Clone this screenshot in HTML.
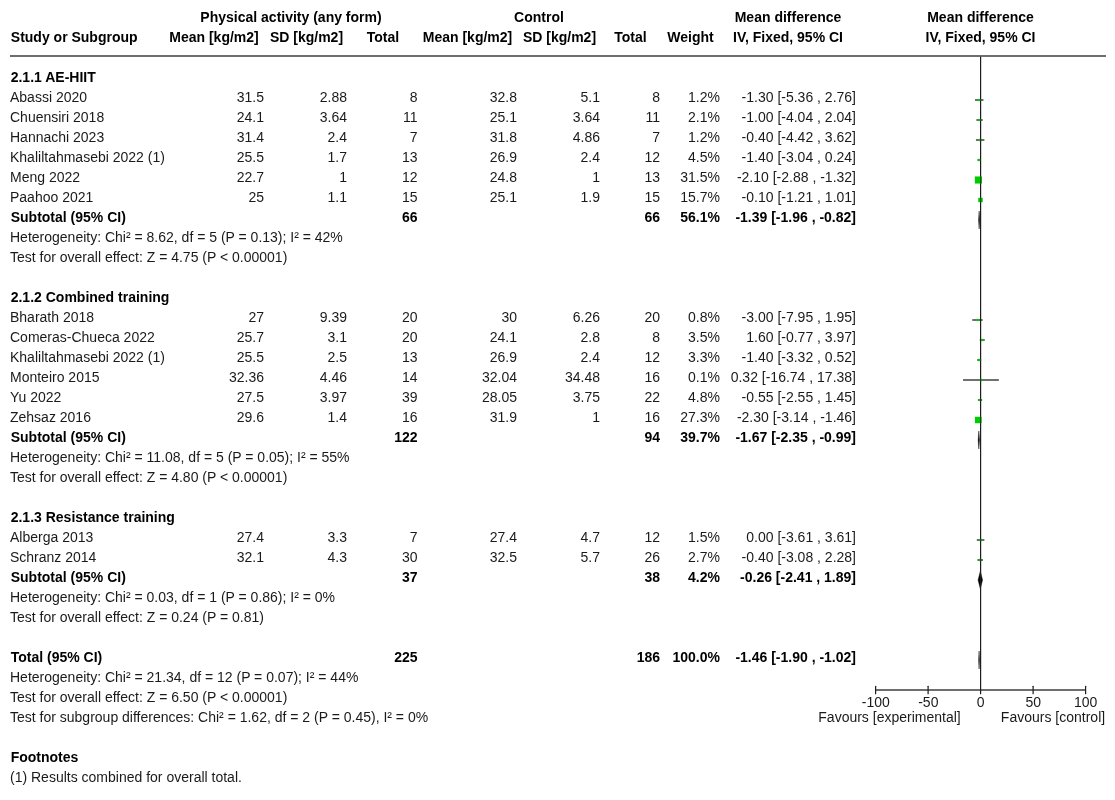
<!DOCTYPE html>
<html><head><meta charset="utf-8"><title>Forest plot</title>
<style>
html,body{margin:0;padding:0;background:#fff;}
body{width:1115px;height:800px;position:relative;overflow:hidden;font-family:"Liberation Sans",sans-serif;font-size:14px;color:#1a1a1a;}
.t{position:absolute;white-space:nowrap;line-height:20px;height:20px;}
.b{font-weight:bold;color:#000;}
.r{transform:translateX(-100%);}
.c{transform:translateX(-50%);}
svg{position:absolute;left:0;top:0;}
#w{position:absolute;left:0;top:0;width:1115px;height:800px;will-change:transform;}
</style></head><body><div id="w">
<div class="t b c" style="left:291px;top:7px">Physical activity (any form)</div>
<div class="t b c" style="left:539px;top:7px">Control</div>
<div class="t b c" style="left:788px;top:7px">Mean difference</div>
<div class="t b c" style="left:980.5px;top:7px">Mean difference</div>
<div class="t b" style="left:10.8px;top:27px">Study or Subgroup</div>
<div class="t b c" style="left:214px;top:27px">Mean [kg/m2]</div>
<div class="t b c" style="left:306.5px;top:27px">SD [kg/m2]</div>
<div class="t b c" style="left:383px;top:27px">Total</div>
<div class="t b c" style="left:467.5px;top:27px">Mean [kg/m2]</div>
<div class="t b c" style="left:559.5px;top:27px">SD [kg/m2]</div>
<div class="t b c" style="left:630.5px;top:27px">Total</div>
<div class="t b c" style="left:690.5px;top:27px">Weight</div>
<div class="t b c" style="left:788px;top:27px">IV, Fixed, 95% CI</div>
<div class="t b c" style="left:980.5px;top:27px">IV, Fixed, 95% CI</div>
<div class="t b" style="left:10.7px;top:67px">2.1.1 AE-HIIT</div>
<div class="t" style="left:10px;top:87px">Abassi 2020</div>
<div class="t r" style="left:264px;top:87px">31.5</div>
<div class="t r" style="left:347px;top:87px">2.88</div>
<div class="t r" style="left:417.5px;top:87px">8</div>
<div class="t r" style="left:517px;top:87px">32.8</div>
<div class="t r" style="left:600px;top:87px">5.1</div>
<div class="t r" style="left:660px;top:87px">8</div>
<div class="t r" style="left:720px;top:87px">1.2%</div>
<div class="t r" style="left:856px;top:87px">-1.30 [-5.36 , 2.76]</div>
<div class="t" style="left:10px;top:107px">Chuensiri 2018</div>
<div class="t r" style="left:264px;top:107px">24.1</div>
<div class="t r" style="left:347px;top:107px">3.64</div>
<div class="t r" style="left:417.5px;top:107px">11</div>
<div class="t r" style="left:517px;top:107px">25.1</div>
<div class="t r" style="left:600px;top:107px">3.64</div>
<div class="t r" style="left:660px;top:107px">11</div>
<div class="t r" style="left:720px;top:107px">2.1%</div>
<div class="t r" style="left:856px;top:107px">-1.00 [-4.04 , 2.04]</div>
<div class="t" style="left:10px;top:127px">Hannachi 2023</div>
<div class="t r" style="left:264px;top:127px">31.4</div>
<div class="t r" style="left:347px;top:127px">2.4</div>
<div class="t r" style="left:417.5px;top:127px">7</div>
<div class="t r" style="left:517px;top:127px">31.8</div>
<div class="t r" style="left:600px;top:127px">4.86</div>
<div class="t r" style="left:660px;top:127px">7</div>
<div class="t r" style="left:720px;top:127px">1.2%</div>
<div class="t r" style="left:856px;top:127px">-0.40 [-4.42 , 3.62]</div>
<div class="t" style="left:10px;top:147px">Khaliltahmasebi 2022 (1)</div>
<div class="t r" style="left:264px;top:147px">25.5</div>
<div class="t r" style="left:347px;top:147px">1.7</div>
<div class="t r" style="left:417.5px;top:147px">13</div>
<div class="t r" style="left:517px;top:147px">26.9</div>
<div class="t r" style="left:600px;top:147px">2.4</div>
<div class="t r" style="left:660px;top:147px">12</div>
<div class="t r" style="left:720px;top:147px">4.5%</div>
<div class="t r" style="left:856px;top:147px">-1.40 [-3.04 , 0.24]</div>
<div class="t" style="left:10px;top:167px">Meng 2022</div>
<div class="t r" style="left:264px;top:167px">22.7</div>
<div class="t r" style="left:347px;top:167px">1</div>
<div class="t r" style="left:417.5px;top:167px">12</div>
<div class="t r" style="left:517px;top:167px">24.8</div>
<div class="t r" style="left:600px;top:167px">1</div>
<div class="t r" style="left:660px;top:167px">13</div>
<div class="t r" style="left:720px;top:167px">31.5%</div>
<div class="t r" style="left:856px;top:167px">-2.10 [-2.88 , -1.32]</div>
<div class="t" style="left:10px;top:187px">Paahoo 2021</div>
<div class="t r" style="left:264px;top:187px">25</div>
<div class="t r" style="left:347px;top:187px">1.1</div>
<div class="t r" style="left:417.5px;top:187px">15</div>
<div class="t r" style="left:517px;top:187px">25.1</div>
<div class="t r" style="left:600px;top:187px">1.9</div>
<div class="t r" style="left:660px;top:187px">15</div>
<div class="t r" style="left:720px;top:187px">15.7%</div>
<div class="t r" style="left:856px;top:187px">-0.10 [-1.21 , 1.01]</div>
<div class="t b" style="left:10.7px;top:207px">Subtotal (95% CI)</div>
<div class="t b r" style="left:417.5px;top:207px">66</div>
<div class="t b r" style="left:660px;top:207px">66</div>
<div class="t b r" style="left:720px;top:207px">56.1%</div>
<div class="t b r" style="left:856px;top:207px">-1.39 [-1.96 , -0.82]</div>
<div class="t" style="left:10px;top:227px">Heterogeneity: Chi² = 8.62, df = 5 (P = 0.13); I² = 42%</div>
<div class="t" style="left:10px;top:247px">Test for overall effect: Z = 4.75 (P &lt; 0.00001)</div>
<div class="t b" style="left:10.7px;top:287px">2.1.2 Combined training</div>
<div class="t" style="left:10px;top:307px">Bharath 2018</div>
<div class="t r" style="left:264px;top:307px">27</div>
<div class="t r" style="left:347px;top:307px">9.39</div>
<div class="t r" style="left:417.5px;top:307px">20</div>
<div class="t r" style="left:517px;top:307px">30</div>
<div class="t r" style="left:600px;top:307px">6.26</div>
<div class="t r" style="left:660px;top:307px">20</div>
<div class="t r" style="left:720px;top:307px">0.8%</div>
<div class="t r" style="left:856px;top:307px">-3.00 [-7.95 , 1.95]</div>
<div class="t" style="left:10px;top:327px">Comeras-Chueca 2022</div>
<div class="t r" style="left:264px;top:327px">25.7</div>
<div class="t r" style="left:347px;top:327px">3.1</div>
<div class="t r" style="left:417.5px;top:327px">20</div>
<div class="t r" style="left:517px;top:327px">24.1</div>
<div class="t r" style="left:600px;top:327px">2.8</div>
<div class="t r" style="left:660px;top:327px">8</div>
<div class="t r" style="left:720px;top:327px">3.5%</div>
<div class="t r" style="left:856px;top:327px">1.60 [-0.77 , 3.97]</div>
<div class="t" style="left:10px;top:347px">Khaliltahmasebi 2022 (1)</div>
<div class="t r" style="left:264px;top:347px">25.5</div>
<div class="t r" style="left:347px;top:347px">2.5</div>
<div class="t r" style="left:417.5px;top:347px">13</div>
<div class="t r" style="left:517px;top:347px">26.9</div>
<div class="t r" style="left:600px;top:347px">2.4</div>
<div class="t r" style="left:660px;top:347px">12</div>
<div class="t r" style="left:720px;top:347px">3.3%</div>
<div class="t r" style="left:856px;top:347px">-1.40 [-3.32 , 0.52]</div>
<div class="t" style="left:10px;top:367px">Monteiro 2015</div>
<div class="t r" style="left:264px;top:367px">32.36</div>
<div class="t r" style="left:347px;top:367px">4.46</div>
<div class="t r" style="left:417.5px;top:367px">14</div>
<div class="t r" style="left:517px;top:367px">32.04</div>
<div class="t r" style="left:600px;top:367px">34.48</div>
<div class="t r" style="left:660px;top:367px">16</div>
<div class="t r" style="left:720px;top:367px">0.1%</div>
<div class="t r" style="left:856px;top:367px">0.32 [-16.74 , 17.38]</div>
<div class="t" style="left:10px;top:387px">Yu 2022</div>
<div class="t r" style="left:264px;top:387px">27.5</div>
<div class="t r" style="left:347px;top:387px">3.97</div>
<div class="t r" style="left:417.5px;top:387px">39</div>
<div class="t r" style="left:517px;top:387px">28.05</div>
<div class="t r" style="left:600px;top:387px">3.75</div>
<div class="t r" style="left:660px;top:387px">22</div>
<div class="t r" style="left:720px;top:387px">4.8%</div>
<div class="t r" style="left:856px;top:387px">-0.55 [-2.55 , 1.45]</div>
<div class="t" style="left:10px;top:407px">Zehsaz 2016</div>
<div class="t r" style="left:264px;top:407px">29.6</div>
<div class="t r" style="left:347px;top:407px">1.4</div>
<div class="t r" style="left:417.5px;top:407px">16</div>
<div class="t r" style="left:517px;top:407px">31.9</div>
<div class="t r" style="left:600px;top:407px">1</div>
<div class="t r" style="left:660px;top:407px">16</div>
<div class="t r" style="left:720px;top:407px">27.3%</div>
<div class="t r" style="left:856px;top:407px">-2.30 [-3.14 , -1.46]</div>
<div class="t b" style="left:10.7px;top:427px">Subtotal (95% CI)</div>
<div class="t b r" style="left:417.5px;top:427px">122</div>
<div class="t b r" style="left:660px;top:427px">94</div>
<div class="t b r" style="left:720px;top:427px">39.7%</div>
<div class="t b r" style="left:856px;top:427px">-1.67 [-2.35 , -0.99]</div>
<div class="t" style="left:10px;top:447px">Heterogeneity: Chi² = 11.08, df = 5 (P = 0.05); I² = 55%</div>
<div class="t" style="left:10px;top:467px">Test for overall effect: Z = 4.80 (P &lt; 0.00001)</div>
<div class="t b" style="left:10.7px;top:507px">2.1.3 Resistance training</div>
<div class="t" style="left:10px;top:527px">Alberga 2013</div>
<div class="t r" style="left:264px;top:527px">27.4</div>
<div class="t r" style="left:347px;top:527px">3.3</div>
<div class="t r" style="left:417.5px;top:527px">7</div>
<div class="t r" style="left:517px;top:527px">27.4</div>
<div class="t r" style="left:600px;top:527px">4.7</div>
<div class="t r" style="left:660px;top:527px">12</div>
<div class="t r" style="left:720px;top:527px">1.5%</div>
<div class="t r" style="left:856px;top:527px">0.00 [-3.61 , 3.61]</div>
<div class="t" style="left:10px;top:547px">Schranz 2014</div>
<div class="t r" style="left:264px;top:547px">32.1</div>
<div class="t r" style="left:347px;top:547px">4.3</div>
<div class="t r" style="left:417.5px;top:547px">30</div>
<div class="t r" style="left:517px;top:547px">32.5</div>
<div class="t r" style="left:600px;top:547px">5.7</div>
<div class="t r" style="left:660px;top:547px">26</div>
<div class="t r" style="left:720px;top:547px">2.7%</div>
<div class="t r" style="left:856px;top:547px">-0.40 [-3.08 , 2.28]</div>
<div class="t b" style="left:10.7px;top:567px">Subtotal (95% CI)</div>
<div class="t b r" style="left:417.5px;top:567px">37</div>
<div class="t b r" style="left:660px;top:567px">38</div>
<div class="t b r" style="left:720px;top:567px">4.2%</div>
<div class="t b r" style="left:856px;top:567px">-0.26 [-2.41 , 1.89]</div>
<div class="t" style="left:10px;top:587px">Heterogeneity: Chi² = 0.03, df = 1 (P = 0.86); I² = 0%</div>
<div class="t" style="left:10px;top:607px">Test for overall effect: Z = 0.24 (P = 0.81)</div>
<div class="t b" style="left:10.7px;top:647px">Total (95% CI)</div>
<div class="t b r" style="left:417.5px;top:647px">225</div>
<div class="t b r" style="left:660px;top:647px">186</div>
<div class="t b r" style="left:720px;top:647px">100.0%</div>
<div class="t b r" style="left:856px;top:647px">-1.46 [-1.90 , -1.02]</div>
<div class="t" style="left:10px;top:667px">Heterogeneity: Chi² = 21.34, df = 12 (P = 0.07); I² = 44%</div>
<div class="t" style="left:10px;top:687px">Test for overall effect: Z = 6.50 (P &lt; 0.00001)</div>
<div class="t" style="left:10px;top:707px">Test for subgroup differences: Chi² = 1.62, df = 2 (P = 0.45), I² = 0%</div>
<div class="t b" style="left:10.7px;top:747px">Footnotes</div>
<div class="t" style="left:10px;top:767px">(1) Results combined for overall total.</div>
<div class="t c" style="left:875.8px;top:692px">-100</div>
<div class="t c" style="left:928.3px;top:692px">-50</div>
<div class="t c" style="left:980.6px;top:692px">0</div>
<div class="t c" style="left:1033.2px;top:692px">50</div>
<div class="t c" style="left:1085.6px;top:692px">100</div>
<div class="t c" style="left:889.5px;top:707px">Favours [experimental]</div>
<div class="t c" style="left:1053px;top:707px">Favours [control]</div>
<svg width="1115" height="800" viewBox="0 0 1115 800">
<rect x="10" y="55" width="1096" height="2" fill="#6e6e6e"/>
<rect x="875.6" y="689" width="210" height="2" fill="#6e6e6e"/>
<line x1="875.6" y1="686.3" x2="875.6" y2="693.7" stroke="#1c1c1c" stroke-width="1.2" stroke-linecap="round"/>
<line x1="928.1" y1="686.3" x2="928.1" y2="693.7" stroke="#1c1c1c" stroke-width="1.2" stroke-linecap="round"/>
<line x1="1033.1" y1="686.3" x2="1033.1" y2="693.7" stroke="#1c1c1c" stroke-width="1.2" stroke-linecap="round"/>
<line x1="1085.6" y1="686.3" x2="1085.6" y2="693.7" stroke="#1c1c1c" stroke-width="1.2" stroke-linecap="round"/>
<rect x="974.97" y="99" width="8.53" height="2" fill="#707070"/>
<rect x="976.36" y="119" width="6.38" height="2" fill="#707070"/>
<rect x="975.96" y="139" width="8.44" height="2" fill="#707070"/>
<rect x="977.41" y="159" width="3.44" height="2" fill="#707070"/>
<rect x="977.58" y="179" width="1.64" height="2" fill="#707070"/>
<rect x="979.33" y="199" width="2.33" height="2" fill="#707070"/>
<rect x="972.25" y="319" width="10.40" height="2" fill="#707070"/>
<rect x="979.79" y="339" width="4.98" height="2" fill="#707070"/>
<rect x="977.11" y="359" width="4.03" height="2" fill="#707070"/>
<rect x="963.02" y="379" width="35.83" height="2" fill="#707070"/>
<rect x="977.92" y="399" width="4.20" height="2" fill="#707070"/>
<rect x="977.30" y="419" width="1.76" height="2" fill="#707070"/>
<rect x="976.81" y="539" width="7.58" height="2" fill="#707070"/>
<rect x="977.37" y="559" width="5.63" height="2" fill="#707070"/>
<polygon points="978.54,220 979.14,211 979.74,220 979.14,229" fill="#000" stroke="#000" stroke-width="0.4"/>
<polygon points="978.13,440 978.85,431 979.56,440 978.85,449" fill="#000" stroke="#000" stroke-width="0.4"/>
<polygon points="978.07,580 980.33,571 982.58,580 980.33,589" fill="#000" stroke="#000" stroke-width="0.4"/>
<polygon points="978.61,660 979.07,651 979.53,660 979.07,669" fill="#000" stroke="#000" stroke-width="0.4"/>
<line x1="980.6" y1="57" x2="980.6" y2="693.7" stroke="#1c1c1c" stroke-width="1.2" stroke-linecap="round"/>
<rect x="978.09" y="98.85" width="2.30" height="2.30" fill="#00cc00"/>
<rect x="980.00" y="98.85" width="0.38" height="2.30" fill="#064f06"/>
<rect x="978.40" y="118.85" width="2.30" height="2.30" fill="#00cc00"/>
<rect x="980.00" y="118.85" width="0.70" height="2.30" fill="#064f06"/>
<rect x="979.03" y="138.85" width="2.30" height="2.30" fill="#00cc00"/>
<rect x="980.00" y="138.85" width="1.20" height="2.30" fill="#064f06"/>
<rect x="977.98" y="158.85" width="2.30" height="2.30" fill="#00cc00"/>
<rect x="980.00" y="158.85" width="0.28" height="2.30" fill="#064f06"/>
<rect x="974.85" y="176.45" width="7.10" height="7.10" fill="#00cc00"/>
<rect x="980.00" y="176.45" width="1.20" height="7.10" fill="#064f06"/>
<rect x="978.25" y="197.75" width="4.50" height="4.50" fill="#00cc00"/>
<rect x="980.00" y="197.75" width="1.20" height="4.50" fill="#064f06"/>
<rect x="976.30" y="318.85" width="2.30" height="2.30" fill="#00cc00"/>
<rect x="981.13" y="338.85" width="2.30" height="2.30" fill="#00cc00"/>
<rect x="981.13" y="338.85" width="0.07" height="2.30" fill="#064f06"/>
<rect x="977.98" y="358.85" width="2.30" height="2.30" fill="#00cc00"/>
<rect x="980.00" y="358.85" width="0.28" height="2.30" fill="#064f06"/>
<rect x="979.79" y="378.85" width="2.30" height="2.30" fill="#00cc00"/>
<rect x="980.00" y="378.85" width="1.20" height="2.30" fill="#064f06"/>
<rect x="978.87" y="398.85" width="2.30" height="2.30" fill="#00cc00"/>
<rect x="980.00" y="398.85" width="1.17" height="2.30" fill="#064f06"/>
<rect x="974.95" y="416.77" width="6.46" height="6.46" fill="#00cc00"/>
<rect x="980.00" y="416.77" width="1.20" height="6.46" fill="#064f06"/>
<rect x="979.45" y="538.85" width="2.30" height="2.30" fill="#00cc00"/>
<rect x="980.00" y="538.85" width="1.20" height="2.30" fill="#064f06"/>
<rect x="979.03" y="558.85" width="2.30" height="2.30" fill="#00cc00"/>
<rect x="980.00" y="558.85" width="1.20" height="2.30" fill="#064f06"/>
</svg>
</div></body></html>
